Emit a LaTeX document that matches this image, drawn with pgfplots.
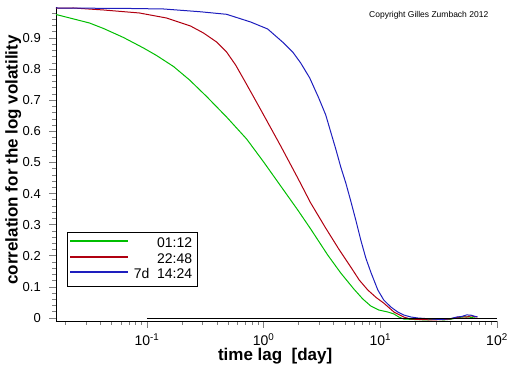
\documentclass[border=0pt]{standalone}
\usepackage{fontspec}
\setmainfont{Liberation Sans}
\usepackage{pgfplots}
\pgfplotsset{compat=1.18}
\definecolor{cgreen}{RGB}{0,190,0}
\definecolor{cred}{RGB}{176,0,16}
\definecolor{cblue}{RGB}{30,30,190}
\begin{document}
\begin{tikzpicture}
\path[use as bounding box] (0pt,0pt) rectangle (512pt,366pt);
\begin{axis}[
  at={(56pt,45pt)}, anchor=south west,
  scale only axis, width=441pt, height=314pt,
  xmode=log, xmin=0.0166, xmax=100, ymin=-0.0096, ymax=1,
  axis x line*=bottom, axis y line*=left,
  axis line style={line width=0.9pt},
  tick style={line width=0.8pt},
  tick align=outside, major tick length=7pt, minor tick length=4pt,
  xtick={0.1,1,10,100},
  xticklabels={10\textsuperscript{-1},10\textsuperscript{0},10\textsuperscript{1},10\textsuperscript{2}},
  minor xtick={0.02,0.03,0.04,0.05,0.06,0.07,0.08,0.09,0.2,0.3,0.4,0.5,0.6,0.7,0.8,0.9,2,3,4,5,6,7,8,9,20,30,40,50,60,70,80,90},
  ytick={0,0.1,0.2,0.3,0.4,0.5,0.6,0.7,0.8,0.9},
  yticklabels={0,0.1,0.2,0.3,0.4,0.5,0.6,0.7,0.8,0.9},
  minor ytick={0.02,0.04,0.06,0.08,0.12,0.14,0.16,0.18,0.22,0.24,0.26,0.28,0.32,0.34,0.36,0.38,0.42,0.44,0.46,0.48,0.52,0.54,0.56,0.58,0.62,0.64,0.66,0.68,0.72,0.74,0.76,0.78,0.82,0.84,0.86,0.88,0.92,0.94,0.96,0.98},
  /pgf/number format/assume math mode=true,
  xticklabel style={font=\fontsize{14}{16}\selectfont, anchor=base, inner sep=0pt, yshift=-18pt},
  yticklabel style={font=\fontsize{13}{15}\selectfont, anchor=east, inner sep=0pt, xshift=-8pt},
  xlabel={time lag\ \ [day]},
  ylabel={correlation for the log volatility},
  label style={font=\bfseries\fontsize{17}{20}\selectfont},
  xlabel style={at={(axis description cs:0.497,-0.127)}, anchor=base},
  ylabel style={at={(axis description cs:-0.087,0.513)}, anchor=base},
  legend style={at={(axis description cs:0.0249,0.1115)}, anchor=south west,
    font=\fontsize{14}{16}\selectfont,
    inner xsep=3pt, inner ysep=3.5pt, row sep=0pt,
    /tikz/every even column/.append style={column sep=0pt}},
  legend cell align=right,
]
\addplot[color=cgreen, line width=1pt,
  legend image code/.code={\fill[fill=cgreen] (0pt,2.0pt) rectangle (57pt,2.9pt);}] coordinates {
(0.0166,0.9759) (0.0321,0.9486) (0.0424,0.9309) (0.0629,0.9019) (0.0933,0.8682)
(0.1207,0.8441) (0.1688,0.8087) (0.2317,0.7653) (0.3243,0.7122) (0.4810,0.6463)
(0.7145,0.5756) (1.0,0.5016) (1.40,0.4244) (1.96,0.3473) (2.53,0.2862)
(3.54,0.2026) (4.58,0.1447) (5.93,0.0932) (7.08,0.0611) (8.28,0.0386)
(9.71,0.0257) (11.6,0.0193) (13.1,0.0129) (14.4,0.0032) (15.9,-0.0032)
(20,-0.005) (25,-0.006) (30,-0.004) (35,-0.006) (40,-0.004) (45,0.0) (50,0.003)
(55,0.004) (60,0.002) (65,0.003)};
\addlegendentry{\makebox[62pt][r]{01:12}}
\addplot[color=cred, line width=1pt,
  legend image code/.code={\fill[fill=cred] (0pt,2.0pt) rectangle (57pt,2.9pt);}] coordinates {
(0.0166,0.996) (0.0234,0.9968) (0.0424,0.9904) (0.0862,0.9807) (0.147,0.9646)
(0.236,0.9389) (0.305,0.9164) (0.395,0.8875) (0.481,0.8553) (0.575,0.8135)
(0.673,0.7685) (0.821,0.7106) (1.0,0.6527) (1.40,0.5531) (1.96,0.4502)
(2.53,0.3698) (3.40,0.2894) (4.4,0.222) (5.58,0.164) (6.6,0.122) (7.81,0.090)
(9.2,0.066) (10.7,0.048) (13.1,0.019) (15.9,0.003) (18,-0.003) (22,-0.005)
(28,-0.006) (35,-0.005) (40,-0.003) (45,0.002) (50,0.004) (55,0.003) (60,0.007)
(65,0.004) (68,0.003)};
\addlegendentry{\makebox[62pt][r]{22:48}}
\addplot[color=cblue, line width=1pt,
  legend image code/.code={\fill[fill=cblue] (0pt,2.0pt) rectangle (57pt,2.9pt);}] coordinates {
(0.0166,0.9968) (0.0721,0.9952) (0.1386,0.9936) (0.2823,0.9849) (0.4810,0.9765)
(0.7732,0.9518) (1.082,0.9293) (1.485,0.8842) (1.774,0.8553) (2.078,0.8199)
(2.483,0.7717) (2.966,0.7074) (3.406,0.6527) (3.758,0.5981) (4.150,0.5434)
(4.58,0.4855) (5.06,0.4341) (5.58,0.3762) (6.16,0.3151) (6.80,0.2508)
(7.51,0.1929) (8.28,0.1479) (9.52,0.0900) (10.7,0.0579) (12.3,0.0354)
(14.1,0.0193) (15.9,0.0096) (18.3,0.0032) (21.0,0.0) (25,-0.002) (30,-0.004)
(35,-0.004) (40,-0.002) (45,0.003) (50,0.005) (55,0.010) (60,0.009) (65,0.005)
(68,0.004)};
\addlegendentry{\makebox[62pt][r]{7d\ \ 14:24}}
\addplot[black, line width=0.9pt, forget plot] coordinates {(0.1,0) (100,0)};
\end{axis}
\node[anchor=west, font=\fontsize{8.5}{10}\selectfont, inner sep=0pt] at (369pt,351pt) {Copyright Gilles Zumbach 2012};
\end{tikzpicture}
\end{document}
